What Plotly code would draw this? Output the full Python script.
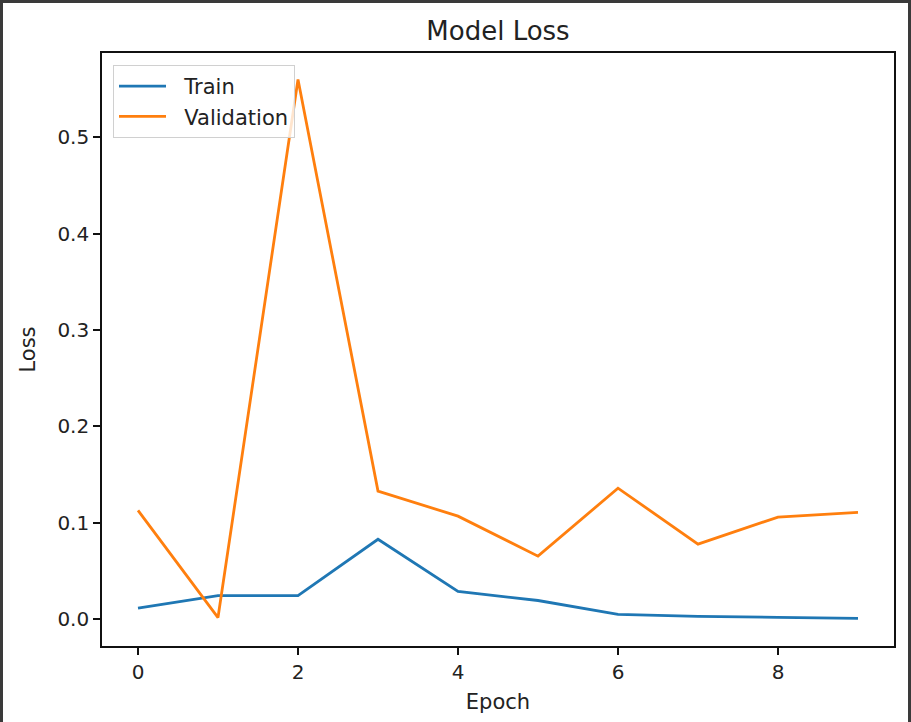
import plotly.graph_objects as go

epochs = [0, 1, 2, 3, 4, 5, 6, 7, 8, 9]
train_loss = [0.0117, 0.0245, 0.0246, 0.083, 0.029, 0.0195, 0.0052, 0.003, 0.002, 0.001]
val_loss = [0.113, 0.0018, 0.560, 0.133, 0.107, 0.0655, 0.136, 0.078, 0.106, 0.111]
series_names = ["Train", "Validation"]

W, H = 911, 722
L, R, T, B = 102, 17, 53, 76
FONT = "DejaVu Sans"
TEXT = "#222222"
FRAME = "#3a3a3a"


def px_x(x):
    return (x - L) / (W - L - R)


def px_y(y):
    return (H - B - y) / (H - T - B)


fig = go.Figure()
# two leading spaces widen the gap between legend line and label, like matplotlib
fig.add_trace(go.Scatter(x=epochs, y=train_loss, mode="lines", name="  " + series_names[0],
                         line=dict(color="#1f77b4", width=2.8), legendgroup="a"))
fig.add_trace(go.Scatter(x=epochs, y=val_loss, mode="lines", name="  " + series_names[1],
                         line=dict(color="#ff7f0e", width=2.8), legendgroup="b"))

axis_common = dict(
    showgrid=False, zeroline=False, showline=True, mirror=True,
    linecolor="#111111", linewidth=1.6,
    ticks="outside", ticklen=7, tickwidth=1.6, tickcolor="#111111",
    tickfont=dict(family=FONT, size=20, color=TEXT),
)

fig.update_xaxes(range=[-0.45, 9.45], tickmode="linear", tick0=0, dtick=2,
                 title=dict(text="Epoch", font=dict(family=FONT, size=21, color=TEXT), standoff=12),
                 **axis_common)
fig.update_yaxes(range=[-0.0277, 0.5874], tickmode="linear", tick0=0, dtick=0.1,
                 tickformat=".1f",
                 title=dict(text="Loss", font=dict(family=FONT, size=21, color=TEXT), standoff=16),
                 **axis_common)

# dark frame of the screenshot (left, top, right)
frame = [
    (0, 0, 3, H),
    (0, 0, W, 3),
    (W - 3, 0, W, H),
]
for x0, y0, x1, y1 in frame:
    fig.add_shape(type="rect", xref="paper", yref="paper",
                  x0=px_x(x0), x1=px_x(x1), y0=px_y(y1), y1=px_y(y0),
                  fillcolor=FRAME, line=dict(width=0), layer="above")

fig.update_layout(
    width=W, height=H,
    margin=dict(l=L, r=R, t=T, b=B),
    paper_bgcolor="white", plot_bgcolor="white",
    font=dict(family=FONT, size=20, color=TEXT),
    title=dict(text="Model Loss", x=0.5, xref="paper", y=1 - 31 / H, yref="container",
               xanchor="center", yanchor="middle",
               font=dict(family=FONT, size=26, color=TEXT)),
    showlegend=True,
    legend=dict(x=px_x(113), y=px_y(65), xanchor="left", yanchor="top",
                bgcolor="rgba(255,255,255,0.8)", bordercolor="#d0d0d0", borderwidth=1,
                font=dict(family=FONT, size=21, color=TEXT),
                itemwidth=47, tracegroupgap=10, traceorder="normal"),
)

# page margin off so the figure sits at the window's corner
fig.write_html("out.html", config={"displayModeBar": False},
               post_script="document.body.style.margin='0';")
